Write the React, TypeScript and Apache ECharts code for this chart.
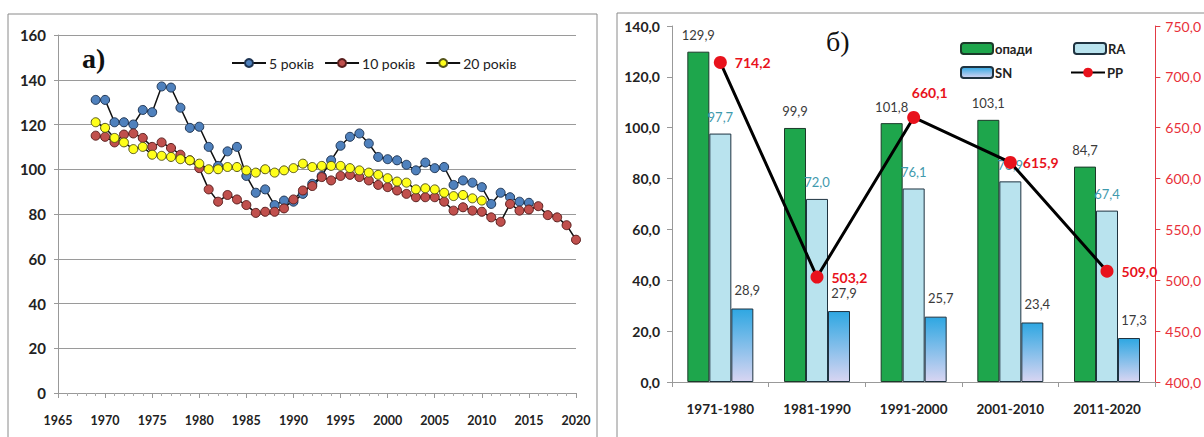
import React, { useEffect, useRef } from "react";
import * as echarts from "echarts";

// ---- Panel a) data ----
const years5 = [1969,1970,1971,1972,1973,1974,1975,1976,1977,1978,1979,1980,1981,1982,1983,1984,1985,1986,1987,1988,1989,1990,1991,1992,1993,1994,1995,1996,1997,1998,1999,2000,2001,2002,2003,2004,2005,2006,2007,2008,2009,2010,2011,2012,2013,2014,2015];
const values5 = [131,131,121,121,120,126.5,125.5,137,136.5,127.5,118.5,119,110,101.5,108,110,97,89.5,91,84,86,85.5,89,93.5,97,104,110.5,114.5,116,111.5,105.5,104.5,104,102,99.5,103,100.5,101,93,95,94,92,84.5,89.5,87.5,85.5,85];
const years10 = [1969,1970,1971,1972,1973,1974,1975,1976,1977,1978,1979,1980,1981,1982,1983,1984,1985,1986,1987,1988,1989,1990,1991,1992,1993,1994,1995,1996,1997,1998,1999,2000,2001,2002,2003,2004,2005,2006,2007,2008,2009,2010,2011,2012,2013,2014,2015,2016,2017,2018,2019,2020];
const values10 = [115,114.5,112,115.5,116,114,110,112,109.5,106.5,104,100.5,91,85.5,88.5,86.5,84,80.5,81,81,82.5,86.5,90.5,92.5,96.5,95,97,97.5,96.5,95,93,92,90.5,89,87.5,87.5,87.5,85.5,81.5,83,81.5,81,78.5,76.5,84.5,81.5,82,83.5,79.5,78.5,75,68.5];
const years20 = [1969,1970,1971,1972,1973,1974,1975,1976,1977,1978,1979,1980,1981,1982,1983,1984,1985,1986,1987,1988,1989,1990,1991,1992,1993,1994,1995,1996,1997,1998,1999,2000,2001,2002,2003,2004,2005,2006,2007,2008,2009,2010];
const values20 = [121,118.5,114,112,109,110,106.5,106,105.5,104.5,104,102.5,100,100,101,101,99.5,98.5,100,98.5,99.5,100.5,102.5,101,101.5,101.5,101.5,100.5,99.5,98.5,97.5,96,94.5,94,91,91.5,91,89.5,88,88.5,87,86];
const seriesNamesA = ["5 років", "10 років", "20 років"];

// ---- Panel б) data ----
const decades = ["1971-1980", "1981-1990", "1991-2000", "2001-2010", "2011-2020"];
const opady = [129.9, 99.9, 101.8, 103.1, 84.7];
const ra = [97.7, 72.0, 76.1, 78.9, 67.4];
const sn = [28.9, 27.9, 25.7, 23.4, 17.3];
const pp = [714.2, 503.2, 660.1, 615.9, 509.0];

const FONT = "Lato";
const fmt = (v: number) => v.toFixed(1).replace(".", ",");
const pairs = (xs: number[], ys: number[]) => xs.map((x, i) => [x, ys[i]]);

export default function App() {
  const ref = useRef<HTMLDivElement>(null);
  useEffect(() => {
    if (!ref.current) return;
    const chart = echarts.init(ref.current, null, { renderer: "svg" });

    const ppLabelCfg = [
      { position: "right", distance: 8 },
      { position: "right", distance: 8 },
      { position: "top", distance: 11, offset: [16, 0] },
      { position: "right", distance: 6 },
      { position: "right", distance: 8 },
    ];

    const lineStyleA = { color: "#111", width: 1.5 };
    const legTextB = { fontFamily: FONT, fontSize: 13, fontWeight: "bold", color: "#222", padding: [0, 0, 0, -3] };

    const option: any = {
      animation: false,
      backgroundColor: "#fff",
      textStyle: { fontFamily: FONT },
      graphic: [
        { type: "rect", shape: { x: 8, y: 14, width: 589, height: 440 }, style: { fill: "none", stroke: "#8a8a8a", lineWidth: 1 }, silent: true },
        { type: "rect", shape: { x: 617, y: 13, width: 620, height: 440 }, style: { fill: "none", stroke: "#8a8a8a", lineWidth: 1 }, silent: true },
        { type: "text", left: 82, top: 44, style: { text: "a)", font: "bold 28px 'Liberation Serif', serif", fill: "#111" } },
        { type: "text", left: 826, top: 27, style: { text: "б)", font: "28px 'Liberation Serif', serif", fill: "#111" } },
      ],
      legend: [
        {
          data: seriesNamesA,
          left: 226,
          top: 51,
          itemWidth: 34,
          itemHeight: 10,
          itemGap: 10,
          textStyle: { fontFamily: FONT, fontSize: 14, color: "#222", padding: [0, 0, 0, -2] },
        },
        { data: ["опади"], left: 955, top: 37, itemWidth: 32, itemHeight: 11, textStyle: legTextB },
        { data: ["RA"], left: 1068, top: 37, itemWidth: 32, itemHeight: 11, textStyle: legTextB },
        { data: ["SN"], left: 955, top: 61, itemWidth: 32, itemHeight: 11, textStyle: legTextB },
        { data: ["PP"], left: 1065, top: 61, itemWidth: 34, itemHeight: 12, textStyle: legTextB },
      ],
      grid: [
        { left: 58, right: 628, top: 35, bottom: 44 },
        { left: 672, right: 48, top: 26, bottom: 55 },
      ],
      xAxis: [
        {
          gridIndex: 0,
          type: "value",
          min: 1965,
          max: 2020,
          interval: 5,
          axisLine: { show: true, lineStyle: { color: "#999" } },
          axisTick: { show: true, length: 5, lineStyle: { color: "#999" } },
          minorTick: { show: true, splitNumber: 5, length: 3, lineStyle: { color: "#aaa" } },
          splitLine: { show: false },
          axisLabel: { fontFamily: FONT, fontSize: 12.5, fontWeight: "bold", color: "#222", margin: 21, formatter: (v: number) => String(v) },
        },
        {
          gridIndex: 1,
          type: "category",
          data: decades,
          axisLine: { show: true, lineStyle: { color: "#999" } },
          axisTick: { show: true, length: 5, lineStyle: { color: "#999" } },
          axisLabel: { fontFamily: FONT, fontSize: 13.5, fontWeight: "bold", color: "#222", margin: 20 },
        },
      ],
      yAxis: [
        {
          gridIndex: 0,
          type: "value",
          min: 0,
          max: 160,
          interval: 20,
          axisLine: { show: true, lineStyle: { color: "#999" } },
          axisTick: { show: true, length: 4, lineStyle: { color: "#999" } },
          splitLine: { show: true, lineStyle: { color: "#9a9a9a", width: 1 } },
          axisLabel: { fontFamily: FONT, fontSize: 15, fontWeight: "bold", color: "#222", margin: 12 },
        },
        {
          gridIndex: 1,
          type: "value",
          min: 0,
          max: 140,
          interval: 20,
          axisLine: { show: true, lineStyle: { color: "#999" } },
          axisTick: { show: true, length: 5, lineStyle: { color: "#999" } },
          splitLine: { show: false },
          axisLabel: { fontFamily: FONT, fontSize: 14, fontWeight: "bold", color: "#222", margin: 12, formatter: (v: number) => fmt(v) },
        },
        {
          gridIndex: 1,
          type: "value",
          position: "right",
          min: 400,
          max: 750,
          interval: 50,
          axisLine: { show: true, lineStyle: { color: "#e23a44" } },
          axisTick: { show: true, length: 5, lineStyle: { color: "#e23a44" } },
          splitLine: { show: false },
          axisLabel: { fontFamily: FONT, fontSize: 14, color: "#e8303a", margin: 10, formatter: (v: number) => fmt(v) },
        },
      ],
      series: [
        {
          name: seriesNamesA[0],
          type: "line",
          xAxisIndex: 0,
          yAxisIndex: 0,
          data: pairs(years5, values5),
          symbol: "circle",
          symbolSize: 9,
          lineStyle: lineStyleA,
          itemStyle: { color: "#4f81bd", borderColor: "#1f3553", borderWidth: 1 },
        },
        {
          name: seriesNamesA[1],
          type: "line",
          xAxisIndex: 0,
          yAxisIndex: 0,
          data: pairs(years10, values10),
          symbol: "circle",
          symbolSize: 9,
          lineStyle: lineStyleA,
          itemStyle: { color: "#c0504d", borderColor: "#5a1f1e", borderWidth: 1 },
        },
        {
          name: seriesNamesA[2],
          type: "line",
          xAxisIndex: 0,
          yAxisIndex: 0,
          data: pairs(years20, values20),
          symbol: "circle",
          symbolSize: 9,
          lineStyle: lineStyleA,
          itemStyle: { color: "#ffff1a", borderColor: "#55551a", borderWidth: 1 },
        },
        {
          name: "опади",
          type: "bar",
          xAxisIndex: 1,
          yAxisIndex: 1,
          data: opady,
          barWidth: 22,
          barGap: "0%",
          itemStyle: { color: "#1ea64c", borderColor: "#1b3a2a", borderWidth: 1 },
          label: { show: true, position: "top", distance: 10, fontFamily: FONT, fontSize: 13, color: "#3a3a3a", formatter: (p: any) => fmt(p.value) },
        },
        {
          name: "RA",
          type: "bar",
          xAxisIndex: 1,
          yAxisIndex: 1,
          data: ra,
          barWidth: 22,
          barGap: "0%",
          itemStyle: { color: "#b9e3ee", borderColor: "#1f3340", borderWidth: 1 },
          label: { show: true, position: "top", distance: 10, fontFamily: FONT, fontSize: 13, color: "#3f9aad", formatter: (p: any) => fmt(p.value) },
        },
        {
          name: "SN",
          type: "bar",
          xAxisIndex: 1,
          yAxisIndex: 1,
          data: sn,
          barWidth: 22,
          barGap: "0%",
          itemStyle: {
            color: new echarts.graphic.LinearGradient(0, 0, 0, 1, [
              { offset: 0, color: "#2ea7e2" },
              { offset: 1, color: "#d8d5f2" },
            ]),
            borderColor: "#1f3340",
            borderWidth: 1,
          },
          label: { show: true, position: "top", distance: 12, offset: [5, 0], fontFamily: FONT, fontSize: 13, color: "#3a3a3a", formatter: (p: any) => fmt(p.value) },
        },
        {
          name: "PP",
          type: "line",
          xAxisIndex: 1,
          yAxisIndex: 2,
          z: 5,
          data: pp.map((v, i) => ({ value: v, label: ppLabelCfg[i] })),
          symbol: "circle",
          symbolSize: 13,
          lineStyle: { color: "#000", width: 3 },
          itemStyle: { color: "#e8121c" },
          label: { show: true, fontFamily: FONT, fontSize: 14, fontWeight: "bold", color: "#e8121c", formatter: (p: any) => fmt(p.value) },
        },
      ],
    };
    chart.setOption(option);
    return () => chart.dispose();
  }, []);
  return <div ref={ref} style={{ position: "fixed", left: 0, top: 0, width: 1204, height: 437, background: "#fff" }} />;
}
